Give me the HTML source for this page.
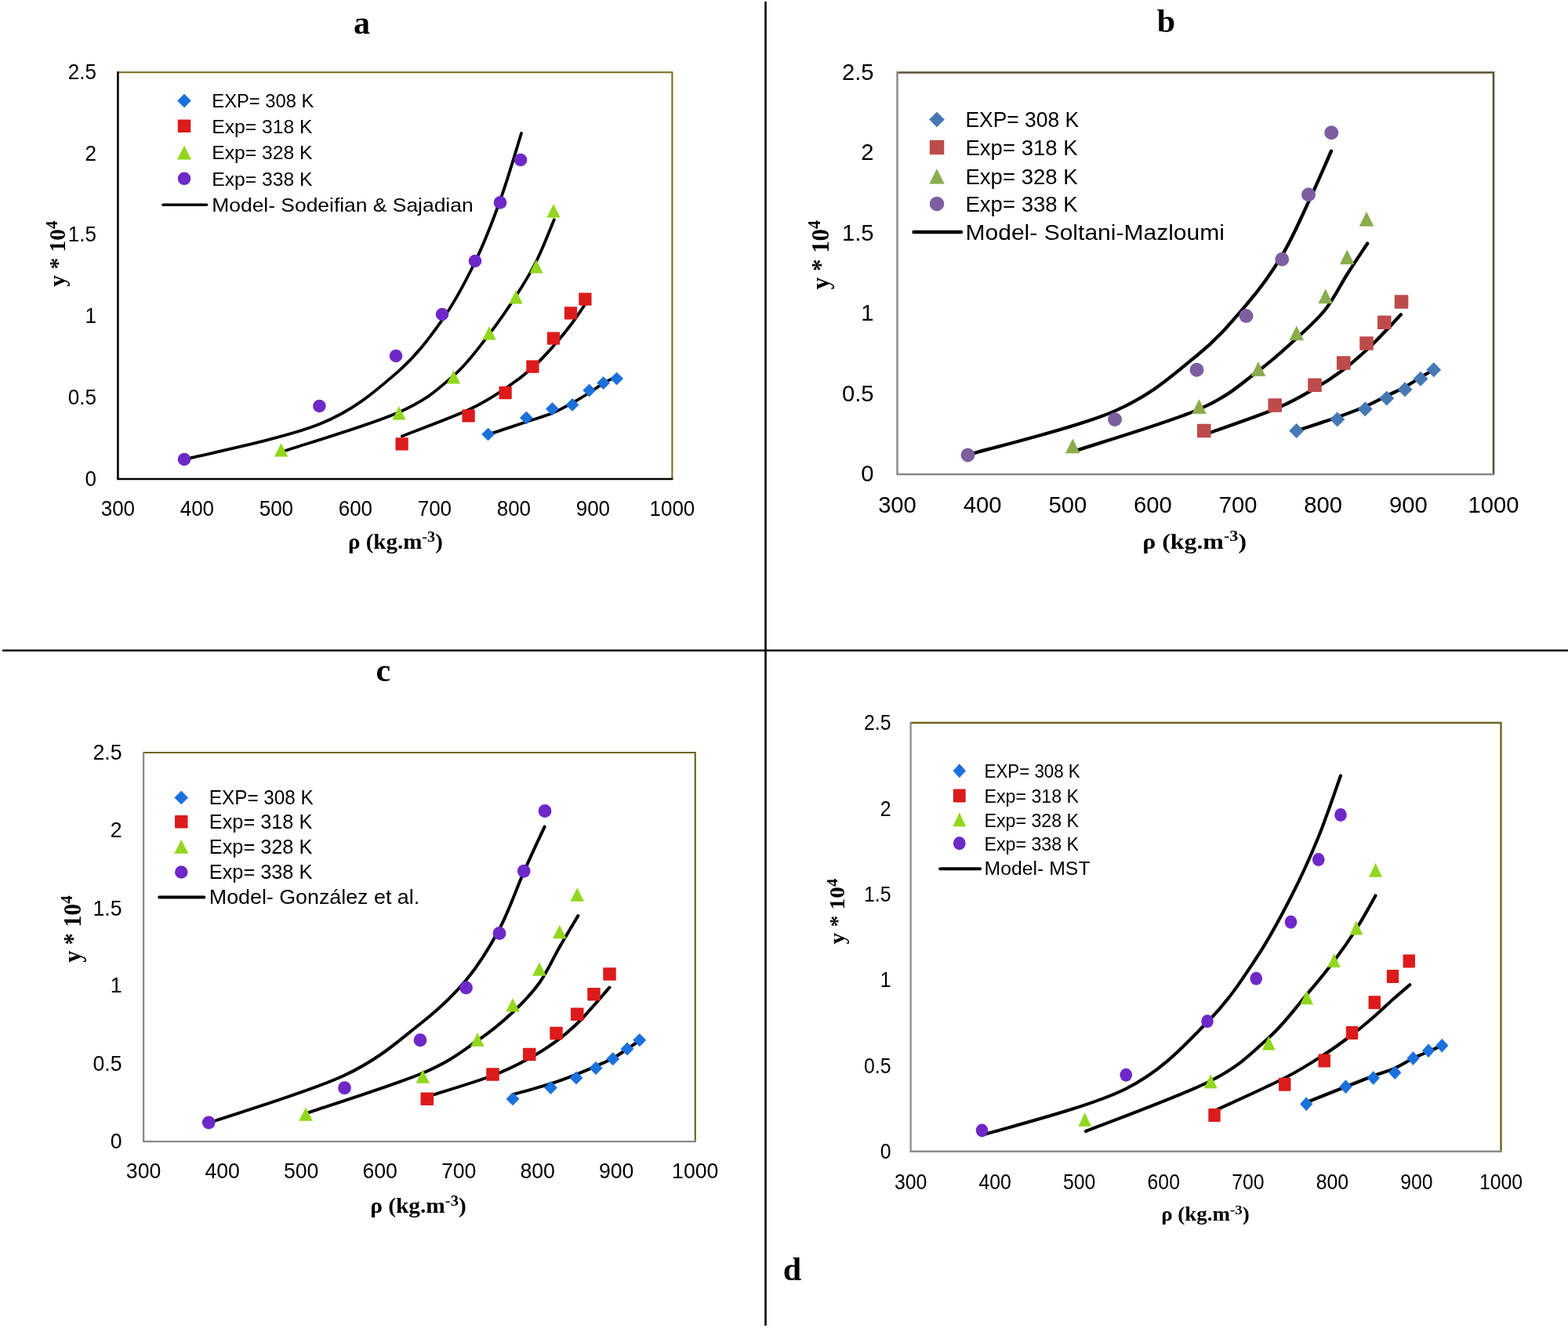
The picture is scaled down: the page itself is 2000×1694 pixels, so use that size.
<!DOCTYPE html>
<html lang="en">
<head>
<meta charset="utf-8">
<title>Solubility versus density: experimental data and model correlations</title>
<style>
html,body{margin:0;padding:0;background:#fff;}
body{width:2000px;height:1694px;overflow:hidden;}
svg{display:block;}
text{fill:#000;}
</style>
</head>
<body>
<svg xmlns="http://www.w3.org/2000/svg" width="2000" height="1694" viewBox="0 0 2000 1694">
<rect x="0" y="0" width="2000" height="1694" fill="#ffffff"/>
<line x1="976.5" y1="2" x2="976.5" y2="1691" stroke="#000" stroke-width="2.6"/>
<line x1="3" y1="829.7" x2="2000" y2="829.7" stroke="#000" stroke-width="2.6"/>
<g>
<polyline points="150.4,92.2 857.4,92.2 857.4,611" fill="none" stroke="#7A6A1E" stroke-width="2" stroke-linejoin="miter"/>
<polyline points="150.4,91.2 150.4,611 858.4,611" fill="none" stroke="#000000" stroke-width="2.6" stroke-linejoin="miter"/>
<text x="123" y="619.5" font-family='"Liberation Sans", Arial, sans-serif' font-size="26.8" font-weight="normal" text-anchor="end" textLength="14.46" lengthAdjust="spacingAndGlyphs" >0</text>
<text x="123" y="515.74" font-family='"Liberation Sans", Arial, sans-serif' font-size="26.8" font-weight="normal" text-anchor="end" textLength="36.14" lengthAdjust="spacingAndGlyphs" >0.5</text>
<text x="123" y="411.98" font-family='"Liberation Sans", Arial, sans-serif' font-size="26.8" font-weight="normal" text-anchor="end" textLength="14.46" lengthAdjust="spacingAndGlyphs" >1</text>
<text x="123" y="308.22" font-family='"Liberation Sans", Arial, sans-serif' font-size="26.8" font-weight="normal" text-anchor="end" textLength="36.14" lengthAdjust="spacingAndGlyphs" >1.5</text>
<text x="123" y="205.06" font-family='"Liberation Sans", Arial, sans-serif' font-size="26.8" font-weight="normal" text-anchor="end" textLength="14.46" lengthAdjust="spacingAndGlyphs" >2</text>
<text x="123" y="100.7" font-family='"Liberation Sans", Arial, sans-serif' font-size="26.8" font-weight="normal" text-anchor="end" textLength="36.14" lengthAdjust="spacingAndGlyphs" >2.5</text>
<text x="150.4" y="658" font-family='"Liberation Sans", Arial, sans-serif' font-size="26.8" font-weight="normal" text-anchor="middle" textLength="43.37" lengthAdjust="spacingAndGlyphs" >300</text>
<text x="251.4" y="658" font-family='"Liberation Sans", Arial, sans-serif' font-size="26.8" font-weight="normal" text-anchor="middle" textLength="43.37" lengthAdjust="spacingAndGlyphs" >400</text>
<text x="352.4" y="658" font-family='"Liberation Sans", Arial, sans-serif' font-size="26.8" font-weight="normal" text-anchor="middle" textLength="43.37" lengthAdjust="spacingAndGlyphs" >500</text>
<text x="453.4" y="658" font-family='"Liberation Sans", Arial, sans-serif' font-size="26.8" font-weight="normal" text-anchor="middle" textLength="43.37" lengthAdjust="spacingAndGlyphs" >600</text>
<text x="554.4" y="658" font-family='"Liberation Sans", Arial, sans-serif' font-size="26.8" font-weight="normal" text-anchor="middle" textLength="43.37" lengthAdjust="spacingAndGlyphs" >700</text>
<text x="655.4" y="658" font-family='"Liberation Sans", Arial, sans-serif' font-size="26.8" font-weight="normal" text-anchor="middle" textLength="43.37" lengthAdjust="spacingAndGlyphs" >800</text>
<text x="756.4" y="658" font-family='"Liberation Sans", Arial, sans-serif' font-size="26.8" font-weight="normal" text-anchor="middle" textLength="43.37" lengthAdjust="spacingAndGlyphs" >900</text>
<text x="857.4" y="658" font-family='"Liberation Sans", Arial, sans-serif' font-size="26.8" font-weight="normal" text-anchor="middle" textLength="57.83" lengthAdjust="spacingAndGlyphs" >1000</text>
<text x="444" y="699.5" font-family='"Liberation Serif", "Times New Roman", serif' font-size="26.8" font-weight="bold" text-anchor="start" textLength="120.8" lengthAdjust="spacingAndGlyphs" >ρ (kg.m<tspan font-size="18.76" dy="-8.84">-3</tspan><tspan dy="8.84">)</tspan></text>
<text x="0" y="0" font-family='"Liberation Serif", "Times New Roman", serif' font-size="29.5" font-weight="bold" text-anchor="middle" textLength="84.08" lengthAdjust="spacingAndGlyphs" transform="translate(82.5,323.7) rotate(-90)">y * 10<tspan font-size="20.65" dy="-9.74">4</tspan></text>
<text x="461.5" y="42.5" font-family='"Liberation Serif", "Times New Roman", serif' font-size="42" font-weight="bold" text-anchor="middle" >a</text>
<path d="M235,586.3 C263.83,578.72 363.03,559.08 408,540.8 C452.97,522.52 478.77,498.77 504.8,476.6 C530.83,454.43 547.33,431.57 564.2,407.8 C581.07,384.03 593.7,359.38 606,334 C618.3,308.62 628.17,282.83 638,255.5 C647.83,228.17 660.5,184.25 665,170" fill="none" stroke="#000" stroke-width="3.8" stroke-linejoin="round" stroke-linecap="round"/>
<path d="M358.6,576.6 C383.6,568.17 472,542.18 508.6,526 C545.2,509.82 558.93,496.17 578.2,479.5 C597.47,462.83 610.9,442.95 624.2,426 C637.5,409.05 648.03,393.22 658,377.8 C667.97,362.38 675.87,349.77 684,333.5 C692.13,317.23 703,289.08 706.8,280.2" fill="none" stroke="#000" stroke-width="3.8" stroke-linejoin="round" stroke-linecap="round"/>
<path d="M512.8,556.4 C526.93,550.8 575.63,532.95 597.6,522.8 C619.57,512.65 630.97,504.47 644.6,495.5 C658.23,486.53 669.17,478.03 679.4,469 C689.63,459.97 697.9,450.38 706,441.3 C714.1,432.22 721.27,423.38 728,414.5 C734.73,405.62 743.33,392.42 746.4,388" fill="none" stroke="#000" stroke-width="3.8" stroke-linejoin="round" stroke-linecap="round"/>
<path d="M622.4,554.4 C630.5,551.7 657.33,542.77 671,538.2 C684.67,533.63 694.57,531.03 704.4,527 C714.23,522.97 722.13,518.33 730,514 C737.87,509.67 745,505.17 751.6,501 C758.2,496.83 763.77,492.5 769.6,489 C775.43,485.5 783.77,481.5 786.6,480" fill="none" stroke="#000" stroke-width="3.8" stroke-linejoin="round" stroke-linecap="round"/>
<polygon points="622.6,545.9 630.7,554 622.6,562.1 614.5,554" fill="#1B70DB" stroke="#1B70DB" stroke-width="0.6" stroke-linejoin="round"/>
<polygon points="671.4,524.9 679.5,533 671.4,541.1 663.3,533" fill="#1B70DB" stroke="#1B70DB" stroke-width="0.6" stroke-linejoin="round"/>
<polygon points="704.4,513.5 712.5,521.6 704.4,529.7 696.3,521.6" fill="#1B70DB" stroke="#1B70DB" stroke-width="0.6" stroke-linejoin="round"/>
<polygon points="730,508.3 738.1,516.4 730,524.5 721.9,516.4" fill="#1B70DB" stroke="#1B70DB" stroke-width="0.6" stroke-linejoin="round"/>
<polygon points="751.6,489.9 759.7,498 751.6,506.1 743.5,498" fill="#1B70DB" stroke="#1B70DB" stroke-width="0.6" stroke-linejoin="round"/>
<polygon points="769.6,480.5 777.7,488.6 769.6,496.7 761.5,488.6" fill="#1B70DB" stroke="#1B70DB" stroke-width="0.6" stroke-linejoin="round"/>
<polygon points="786.6,474.9 794.7,483 786.6,491.1 778.5,483" fill="#1B70DB" stroke="#1B70DB" stroke-width="0.6" stroke-linejoin="round"/>
<rect x="504.45" y="558.25" width="16.3" height="16.3" rx="0.8" fill="#DC1B1B"/>
<rect x="589.45" y="522.25" width="16.3" height="16.3" rx="0.8" fill="#DC1B1B"/>
<rect x="636.45" y="492.85" width="16.3" height="16.3" rx="0.8" fill="#DC1B1B"/>
<rect x="671.25" y="459.45" width="16.3" height="16.3" rx="0.8" fill="#DC1B1B"/>
<rect x="697.85" y="423.45" width="16.3" height="16.3" rx="0.8" fill="#DC1B1B"/>
<rect x="719.85" y="391.25" width="16.3" height="16.3" rx="0.8" fill="#DC1B1B"/>
<rect x="738.25" y="373.45" width="16.3" height="16.3" rx="0.8" fill="#DC1B1B"/>
<polygon points="358.6,565.8 366.8,582.2 350.4,582.2" fill="#92D61D" stroke="#92D61D" stroke-width="0.6" stroke-linejoin="round"/>
<polygon points="509,518.8 517.2,535.2 500.8,535.2" fill="#92D61D" stroke="#92D61D" stroke-width="0.6" stroke-linejoin="round"/>
<polygon points="578.6,472.8 586.8,489.2 570.4,489.2" fill="#92D61D" stroke="#92D61D" stroke-width="0.6" stroke-linejoin="round"/>
<polygon points="624,416.8 632.2,433.2 615.8,433.2" fill="#92D61D" stroke="#92D61D" stroke-width="0.6" stroke-linejoin="round"/>
<polygon points="658,370.8 666.2,387.2 649.8,387.2" fill="#92D61D" stroke="#92D61D" stroke-width="0.6" stroke-linejoin="round"/>
<polygon points="684,331.8 692.2,348.2 675.8,348.2" fill="#92D61D" stroke="#92D61D" stroke-width="0.6" stroke-linejoin="round"/>
<polygon points="706,260.8 714.2,277.2 697.8,277.2" fill="#92D61D" stroke="#92D61D" stroke-width="0.6" stroke-linejoin="round"/>
<ellipse cx="235" cy="586" rx="8.3" ry="8.3" fill="#6E28C8"/>
<ellipse cx="407.4" cy="518" rx="8.3" ry="8.3" fill="#6E28C8"/>
<ellipse cx="505" cy="454" rx="8.3" ry="8.3" fill="#6E28C8"/>
<ellipse cx="564" cy="401" rx="8.3" ry="8.3" fill="#6E28C8"/>
<ellipse cx="606" cy="333" rx="8.3" ry="8.3" fill="#6E28C8"/>
<ellipse cx="638" cy="258.4" rx="8.3" ry="8.3" fill="#6E28C8"/>
<ellipse cx="664" cy="204" rx="8.3" ry="8.3" fill="#6E28C8"/>
<polygon points="235,120.1 243.5,128.6 235,137.1 226.5,128.6" fill="#1B70DB" stroke="#1B70DB" stroke-width="0.6" stroke-linejoin="round"/>
<text x="270.3" y="137.3" font-family='"Liberation Sans", Arial, sans-serif' font-size="24.8" font-weight="normal" text-anchor="start" textLength="129.97" lengthAdjust="spacingAndGlyphs" >EXP= 308 K</text>
<rect x="226.75" y="152.55" width="16.5" height="16.5" rx="0.8" fill="#DC1B1B"/>
<text x="270.3" y="169.5" font-family='"Liberation Sans", Arial, sans-serif' font-size="24.8" font-weight="normal" text-anchor="start" textLength="128.27" lengthAdjust="spacingAndGlyphs" >Exp= 318 K</text>
<polygon points="235,186.2 243.5,203.2 226.5,203.2" fill="#92D61D" stroke="#92D61D" stroke-width="0.6" stroke-linejoin="round"/>
<text x="270.3" y="203.4" font-family='"Liberation Sans", Arial, sans-serif' font-size="24.8" font-weight="normal" text-anchor="start" textLength="128.27" lengthAdjust="spacingAndGlyphs" >Exp= 328 K</text>
<ellipse cx="235" cy="227.8" rx="8.25" ry="8.25" fill="#6E28C8"/>
<text x="270.3" y="236.5" font-family='"Liberation Sans", Arial, sans-serif' font-size="24.8" font-weight="normal" text-anchor="start" textLength="128.27" lengthAdjust="spacingAndGlyphs" >Exp= 338 K</text>
<line x1="208" y1="261.3" x2="263.5" y2="261.3" stroke="#000" stroke-width="3.6" stroke-linecap="round"/>
<text x="270.3" y="270" font-family='"Liberation Sans", Arial, sans-serif' font-size="24.8" font-weight="normal" text-anchor="start" textLength="333.3" lengthAdjust="spacingAndGlyphs" >Model- Sodeifian &amp; Sajadian</text>
</g>
<g>
<polyline points="1144.5,92.5 1905,92.5 1905,605" fill="none" stroke="#5A5232" stroke-width="2.6" stroke-linejoin="miter"/>
<polyline points="1144.5,91.2 1144.5,605 1906.3,605" fill="none" stroke="#868686" stroke-width="2.4" stroke-linejoin="miter"/>
<text x="1114.5" y="614.2" font-family='"Liberation Sans", Arial, sans-serif' font-size="28.9" font-weight="normal" text-anchor="end" textLength="16.23" lengthAdjust="spacingAndGlyphs" >0</text>
<text x="1114.5" y="511.7" font-family='"Liberation Sans", Arial, sans-serif' font-size="28.9" font-weight="normal" text-anchor="end" textLength="40.58" lengthAdjust="spacingAndGlyphs" >0.5</text>
<text x="1114.5" y="409.2" font-family='"Liberation Sans", Arial, sans-serif' font-size="28.9" font-weight="normal" text-anchor="end" textLength="16.23" lengthAdjust="spacingAndGlyphs" >1</text>
<text x="1114.5" y="306.7" font-family='"Liberation Sans", Arial, sans-serif' font-size="28.9" font-weight="normal" text-anchor="end" textLength="40.58" lengthAdjust="spacingAndGlyphs" >1.5</text>
<text x="1114.5" y="204.2" font-family='"Liberation Sans", Arial, sans-serif' font-size="28.9" font-weight="normal" text-anchor="end" textLength="16.23" lengthAdjust="spacingAndGlyphs" >2</text>
<text x="1114.5" y="101.7" font-family='"Liberation Sans", Arial, sans-serif' font-size="28.9" font-weight="normal" text-anchor="end" textLength="40.58" lengthAdjust="spacingAndGlyphs" >2.5</text>
<text x="1144.5" y="653.6" font-family='"Liberation Sans", Arial, sans-serif' font-size="28.9" font-weight="normal" text-anchor="middle" textLength="48.7" lengthAdjust="spacingAndGlyphs" >300</text>
<text x="1253.14" y="653.6" font-family='"Liberation Sans", Arial, sans-serif' font-size="28.9" font-weight="normal" text-anchor="middle" textLength="48.7" lengthAdjust="spacingAndGlyphs" >400</text>
<text x="1361.79" y="653.6" font-family='"Liberation Sans", Arial, sans-serif' font-size="28.9" font-weight="normal" text-anchor="middle" textLength="48.7" lengthAdjust="spacingAndGlyphs" >500</text>
<text x="1470.43" y="653.6" font-family='"Liberation Sans", Arial, sans-serif' font-size="28.9" font-weight="normal" text-anchor="middle" textLength="48.7" lengthAdjust="spacingAndGlyphs" >600</text>
<text x="1579.07" y="653.6" font-family='"Liberation Sans", Arial, sans-serif' font-size="28.9" font-weight="normal" text-anchor="middle" textLength="48.7" lengthAdjust="spacingAndGlyphs" >700</text>
<text x="1687.71" y="653.6" font-family='"Liberation Sans", Arial, sans-serif' font-size="28.9" font-weight="normal" text-anchor="middle" textLength="48.7" lengthAdjust="spacingAndGlyphs" >800</text>
<text x="1796.36" y="653.6" font-family='"Liberation Sans", Arial, sans-serif' font-size="28.9" font-weight="normal" text-anchor="middle" textLength="48.7" lengthAdjust="spacingAndGlyphs" >900</text>
<text x="1905" y="653.6" font-family='"Liberation Sans", Arial, sans-serif' font-size="28.9" font-weight="normal" text-anchor="middle" textLength="64.93" lengthAdjust="spacingAndGlyphs" >1000</text>
<text x="1457.2" y="699.5" font-family='"Liberation Serif", "Times New Roman", serif' font-size="28.3" font-weight="bold" text-anchor="start" textLength="132.87" lengthAdjust="spacingAndGlyphs" >ρ (kg.m<tspan font-size="19.81" dy="-9.34">-3</tspan><tspan dy="9.34">)</tspan></text>
<text x="0" y="0" font-family='"Liberation Serif", "Times New Roman", serif' font-size="31.7" font-weight="bold" text-anchor="middle" textLength="88.27" lengthAdjust="spacingAndGlyphs" transform="translate(1056.7,325.2) rotate(-90)">y * 10<tspan font-size="22.19" dy="-10.46">4</tspan></text>
<text x="1487.5" y="41" font-family='"Liberation Serif", "Times New Roman", serif' font-size="42" font-weight="bold" text-anchor="middle" >b</text>
<path d="M1234.8,580.2 C1265.87,570.93 1372.75,545.55 1421.2,524.6 C1469.65,503.65 1497.37,477.18 1525.5,454.5 C1553.63,431.82 1571.71,409.95 1590,388.5 C1608.29,367.05 1622.08,347.6 1635.25,325.8 C1648.42,304 1658.54,279.88 1669,257.7 C1679.46,235.52 1693.17,203.57 1698,192.75" fill="none" stroke="#000" stroke-width="4.3" stroke-linejoin="round" stroke-linecap="round"/>
<path d="M1368.2,576.1 C1395.04,567.11 1489.86,539.27 1529.25,522.15 C1568.64,505.03 1583.8,488.51 1604.55,473.4 C1625.3,458.29 1639.38,444.65 1653.75,431.5 C1668.12,418.35 1680,408.08 1690.75,394.5 C1701.5,380.92 1709.34,364 1718.25,350 C1727.16,336 1739.88,317.08 1744.2,310.5" fill="none" stroke="#000" stroke-width="4.3" stroke-linejoin="round" stroke-linecap="round"/>
<path d="M1535.75,554.6 C1550.83,549.13 1602.75,531.62 1626.25,521.8 C1649.75,511.98 1662.2,504.1 1676.76,495.7 C1691.32,487.3 1702.56,479.6 1713.6,471.4 C1724.64,463.2 1734.3,454.43 1743,446.5 C1751.7,438.57 1758.5,431.32 1765.8,423.8 C1773.1,416.28 1783.3,405.13 1786.8,401.4" fill="none" stroke="#000" stroke-width="4.3" stroke-linejoin="round" stroke-linecap="round"/>
<path d="M1653.8,549.4 C1662.47,546.53 1691.23,537.33 1705.8,532.2 C1720.37,527.07 1730.7,523.13 1741.2,518.6 C1751.7,514.07 1760.3,509.17 1768.8,505 C1777.3,500.83 1785,497.55 1792.2,493.6 C1799.4,489.65 1805.9,485 1812,481.3 C1818.1,477.6 1826,473.05 1828.8,471.4" fill="none" stroke="#000" stroke-width="4.3" stroke-linejoin="round" stroke-linecap="round"/>
<polygon points="1653.75,540.3 1662.95,549.5 1653.75,558.7 1644.55,549.5" fill="#4678B4" stroke="#4678B4" stroke-width="0.6" stroke-linejoin="round"/>
<polygon points="1705.75,525.8 1714.95,535 1705.75,544.2 1696.55,535" fill="#4678B4" stroke="#4678B4" stroke-width="0.6" stroke-linejoin="round"/>
<polygon points="1741.25,512.55 1750.45,521.75 1741.25,530.95 1732.05,521.75" fill="#4678B4" stroke="#4678B4" stroke-width="0.6" stroke-linejoin="round"/>
<polygon points="1768.75,498.8 1777.95,508 1768.75,517.2 1759.55,508" fill="#4678B4" stroke="#4678B4" stroke-width="0.6" stroke-linejoin="round"/>
<polygon points="1792,487.55 1801.2,496.75 1792,505.95 1782.8,496.75" fill="#4678B4" stroke="#4678B4" stroke-width="0.6" stroke-linejoin="round"/>
<polygon points="1812,474.05 1821.2,483.25 1812,492.45 1802.8,483.25" fill="#4678B4" stroke="#4678B4" stroke-width="0.6" stroke-linejoin="round"/>
<polygon points="1828.75,462.55 1837.95,471.75 1828.75,480.95 1819.55,471.75" fill="#4678B4" stroke="#4678B4" stroke-width="0.6" stroke-linejoin="round"/>
<rect x="1526.95" y="540.7" width="17.6" height="17.6" rx="0.8" fill="#BE4B4B"/>
<rect x="1617.45" y="508.2" width="17.6" height="17.6" rx="0.8" fill="#BE4B4B"/>
<rect x="1668.2" y="482.45" width="17.6" height="17.6" rx="0.8" fill="#BE4B4B"/>
<rect x="1704.95" y="454.2" width="17.6" height="17.6" rx="0.8" fill="#BE4B4B"/>
<rect x="1734.2" y="429.2" width="17.6" height="17.6" rx="0.8" fill="#BE4B4B"/>
<rect x="1756.95" y="402.45" width="17.6" height="17.6" rx="0.8" fill="#BE4B4B"/>
<rect x="1778.7" y="376.2" width="17.6" height="17.6" rx="0.8" fill="#BE4B4B"/>
<polygon points="1368.25,560.1 1377.15,577.9 1359.35,577.9" fill="#8AAC4C" stroke="#8AAC4C" stroke-width="0.6" stroke-linejoin="round"/>
<polygon points="1529.5,509.85 1538.4,527.65 1520.6,527.65" fill="#8AAC4C" stroke="#8AAC4C" stroke-width="0.6" stroke-linejoin="round"/>
<polygon points="1605,461.85 1613.9,479.65 1596.1,479.65" fill="#8AAC4C" stroke="#8AAC4C" stroke-width="0.6" stroke-linejoin="round"/>
<polygon points="1653.75,416.1 1662.65,433.9 1644.85,433.9" fill="#8AAC4C" stroke="#8AAC4C" stroke-width="0.6" stroke-linejoin="round"/>
<polygon points="1690.75,369.1 1699.65,386.9 1681.85,386.9" fill="#8AAC4C" stroke="#8AAC4C" stroke-width="0.6" stroke-linejoin="round"/>
<polygon points="1718.25,319.1 1727.15,336.9 1709.35,336.9" fill="#8AAC4C" stroke="#8AAC4C" stroke-width="0.6" stroke-linejoin="round"/>
<polygon points="1743,270.6 1751.9,288.4 1734.1,288.4" fill="#8AAC4C" stroke="#8AAC4C" stroke-width="0.6" stroke-linejoin="round"/>
<ellipse cx="1234.5" cy="580.5" rx="9" ry="9" fill="#7D5FA0"/>
<ellipse cx="1422" cy="535" rx="9" ry="9" fill="#7D5FA0"/>
<ellipse cx="1526.5" cy="471.75" rx="9" ry="9" fill="#7D5FA0"/>
<ellipse cx="1589.5" cy="403" rx="9" ry="9" fill="#7D5FA0"/>
<ellipse cx="1635.25" cy="330.75" rx="9" ry="9" fill="#7D5FA0"/>
<ellipse cx="1669" cy="248.25" rx="9" ry="9" fill="#7D5FA0"/>
<ellipse cx="1698.25" cy="169.25" rx="9" ry="9" fill="#7D5FA0"/>
<polygon points="1195,143 1204.5,152.5 1195,162 1185.5,152.5" fill="#4678B4" stroke="#4678B4" stroke-width="0.6" stroke-linejoin="round"/>
<text x="1231.5" y="162.2" font-family='"Liberation Sans", Arial, sans-serif' font-size="27.3" font-weight="normal" text-anchor="start" textLength="144.56" lengthAdjust="spacingAndGlyphs" >EXP= 308 K</text>
<rect x="1185.75" y="178.75" width="18.5" height="18.5" rx="0.8" fill="#BE4B4B"/>
<text x="1231.5" y="197.7" font-family='"Liberation Sans", Arial, sans-serif' font-size="27.3" font-weight="normal" text-anchor="start" textLength="143.05" lengthAdjust="spacingAndGlyphs" >Exp= 318 K</text>
<polygon points="1195,215.75 1204.25,234.25 1185.75,234.25" fill="#8AAC4C" stroke="#8AAC4C" stroke-width="0.6" stroke-linejoin="round"/>
<text x="1231.5" y="234.7" font-family='"Liberation Sans", Arial, sans-serif' font-size="27.3" font-weight="normal" text-anchor="start" textLength="143.05" lengthAdjust="spacingAndGlyphs" >Exp= 328 K</text>
<ellipse cx="1195" cy="260" rx="9.25" ry="9.25" fill="#7D5FA0"/>
<text x="1231.5" y="269.7" font-family='"Liberation Sans", Arial, sans-serif' font-size="27.3" font-weight="normal" text-anchor="start" textLength="143.05" lengthAdjust="spacingAndGlyphs" >Exp= 338 K</text>
<line x1="1165.5" y1="296" x2="1226" y2="296" stroke="#000" stroke-width="4.4" stroke-linecap="round"/>
<text x="1231.5" y="305.7" font-family='"Liberation Sans", Arial, sans-serif' font-size="27.3" font-weight="normal" text-anchor="start" textLength="330.45" lengthAdjust="spacingAndGlyphs" >Model- Soltani-Mazloumi</text>
</g>
<g>
<polyline points="183.1,960 886.75,960 886.75,1456.1" fill="none" stroke="#6F631C" stroke-width="2.2" stroke-linejoin="miter"/>
<polyline points="183.1,958.9 183.1,1456.1 887.85,1456.1" fill="none" stroke="#8A8A8A" stroke-width="2.3" stroke-linejoin="miter"/>
<text x="155.5" y="1464.8" font-family='"Liberation Sans", Arial, sans-serif' font-size="27.2" font-weight="normal" text-anchor="end" textLength="14.82" lengthAdjust="spacingAndGlyphs" >0</text>
<text x="155.5" y="1365.58" font-family='"Liberation Sans", Arial, sans-serif' font-size="27.2" font-weight="normal" text-anchor="end" textLength="37.06" lengthAdjust="spacingAndGlyphs" >0.5</text>
<text x="155.5" y="1266.36" font-family='"Liberation Sans", Arial, sans-serif' font-size="27.2" font-weight="normal" text-anchor="end" textLength="14.82" lengthAdjust="spacingAndGlyphs" >1</text>
<text x="155.5" y="1168.14" font-family='"Liberation Sans", Arial, sans-serif' font-size="27.2" font-weight="normal" text-anchor="end" textLength="37.06" lengthAdjust="spacingAndGlyphs" >1.5</text>
<text x="155.5" y="1068.32" font-family='"Liberation Sans", Arial, sans-serif' font-size="27.2" font-weight="normal" text-anchor="end" textLength="14.82" lengthAdjust="spacingAndGlyphs" >2</text>
<text x="155.5" y="968.7" font-family='"Liberation Sans", Arial, sans-serif' font-size="27.2" font-weight="normal" text-anchor="end" textLength="37.06" lengthAdjust="spacingAndGlyphs" >2.5</text>
<text x="183.1" y="1503" font-family='"Liberation Sans", Arial, sans-serif' font-size="27.2" font-weight="normal" text-anchor="middle" textLength="44.47" lengthAdjust="spacingAndGlyphs" >300</text>
<text x="283.62" y="1503" font-family='"Liberation Sans", Arial, sans-serif' font-size="27.2" font-weight="normal" text-anchor="middle" textLength="44.47" lengthAdjust="spacingAndGlyphs" >400</text>
<text x="384.14" y="1503" font-family='"Liberation Sans", Arial, sans-serif' font-size="27.2" font-weight="normal" text-anchor="middle" textLength="44.47" lengthAdjust="spacingAndGlyphs" >500</text>
<text x="484.66" y="1503" font-family='"Liberation Sans", Arial, sans-serif' font-size="27.2" font-weight="normal" text-anchor="middle" textLength="44.47" lengthAdjust="spacingAndGlyphs" >600</text>
<text x="585.19" y="1503" font-family='"Liberation Sans", Arial, sans-serif' font-size="27.2" font-weight="normal" text-anchor="middle" textLength="44.47" lengthAdjust="spacingAndGlyphs" >700</text>
<text x="685.71" y="1503" font-family='"Liberation Sans", Arial, sans-serif' font-size="27.2" font-weight="normal" text-anchor="middle" textLength="44.47" lengthAdjust="spacingAndGlyphs" >800</text>
<text x="786.23" y="1503" font-family='"Liberation Sans", Arial, sans-serif' font-size="27.2" font-weight="normal" text-anchor="middle" textLength="44.47" lengthAdjust="spacingAndGlyphs" >900</text>
<text x="886.75" y="1503" font-family='"Liberation Sans", Arial, sans-serif' font-size="27.2" font-weight="normal" text-anchor="middle" textLength="59.3" lengthAdjust="spacingAndGlyphs" >1000</text>
<text x="472.2" y="1546.5" font-family='"Liberation Serif", "Times New Roman", serif' font-size="26.4" font-weight="bold" text-anchor="start" textLength="122.52" lengthAdjust="spacingAndGlyphs" >ρ (kg.m<tspan font-size="18.48" dy="-8.71">-3</tspan><tspan dy="8.71">)</tspan></text>
<text x="0" y="0" font-family='"Liberation Serif", "Times New Roman", serif' font-size="30.6" font-weight="bold" text-anchor="middle" textLength="85.47" lengthAdjust="spacingAndGlyphs" transform="translate(102.5,1185) rotate(-90)">y * 10<tspan font-size="21.42" dy="-10.1">4</tspan></text>
<text x="488.75" y="869" font-family='"Liberation Serif", "Times New Roman", serif' font-size="42" font-weight="bold" text-anchor="middle" >c</text>
<path d="M266.4,1432.3 C295.2,1422.22 394.27,1392.85 439.2,1371.8 C484.13,1350.75 510.12,1326.25 536,1306 C561.88,1285.75 577.67,1270.47 594.5,1250.3 C611.33,1230.13 624.71,1208.05 637,1185 C649.29,1161.95 658.65,1133.73 668.25,1112 C677.85,1090.27 690.21,1064.17 694.6,1054.6" fill="none" stroke="#000" stroke-width="4.0" stroke-linejoin="round" stroke-linecap="round"/>
<path d="M390,1420.4 C414.88,1411.79 502.75,1384.23 539.25,1368.75 C575.75,1353.27 589.88,1340.42 609,1327.5 C628.12,1314.58 640.83,1303.54 654,1291.25 C667.17,1278.96 678.04,1267.62 688,1253.75 C697.96,1239.88 705.53,1222.26 713.75,1208 C721.97,1193.74 733.38,1174.83 737.3,1168.2" fill="none" stroke="#000" stroke-width="4.0" stroke-linejoin="round" stroke-linecap="round"/>
<path d="M544.75,1399 C558.71,1394.5 606.75,1380.17 628.5,1372 C650.25,1363.83 661.75,1357.3 675.25,1350 C688.75,1342.7 699.33,1335.62 709.5,1328.2 C719.67,1320.78 728.25,1313.12 736.25,1305.5 C744.25,1297.88 750.62,1290.17 757.5,1282.5 C764.38,1274.83 774.17,1263.33 777.5,1259.5" fill="none" stroke="#000" stroke-width="4.0" stroke-linejoin="round" stroke-linecap="round"/>
<path d="M654,1396.25 C662.08,1393.92 689,1386.58 702.5,1382.3 C716,1378.02 725.42,1374.32 735,1370.6 C744.58,1366.88 752.21,1363.43 760,1360 C767.79,1356.57 775.08,1353.67 781.75,1350 C788.42,1346.33 794.33,1341.75 800,1338 C805.67,1334.25 813.12,1329.25 815.75,1327.5" fill="none" stroke="#000" stroke-width="4.0" stroke-linejoin="round" stroke-linecap="round"/>
<polygon points="654,1393.55 662.2,1401.75 654,1409.95 645.8,1401.75" fill="#1B70DB" stroke="#1B70DB" stroke-width="0.6" stroke-linejoin="round"/>
<polygon points="702.5,1379.3 710.7,1387.5 702.5,1395.7 694.3,1387.5" fill="#1B70DB" stroke="#1B70DB" stroke-width="0.6" stroke-linejoin="round"/>
<polygon points="735,1366.8 743.2,1375 735,1383.2 726.8,1375" fill="#1B70DB" stroke="#1B70DB" stroke-width="0.6" stroke-linejoin="round"/>
<polygon points="760,1354.3 768.2,1362.5 760,1370.7 751.8,1362.5" fill="#1B70DB" stroke="#1B70DB" stroke-width="0.6" stroke-linejoin="round"/>
<polygon points="781.75,1342.55 789.95,1350.75 781.75,1358.95 773.55,1350.75" fill="#1B70DB" stroke="#1B70DB" stroke-width="0.6" stroke-linejoin="round"/>
<polygon points="800,1329.8 808.2,1338 800,1346.2 791.8,1338" fill="#1B70DB" stroke="#1B70DB" stroke-width="0.6" stroke-linejoin="round"/>
<polygon points="815.75,1318.55 823.95,1326.75 815.75,1334.95 807.55,1326.75" fill="#1B70DB" stroke="#1B70DB" stroke-width="0.6" stroke-linejoin="round"/>
<rect x="536.5" y="1393.5" width="16.5" height="16.5" rx="0.8" fill="#DC1B1B"/>
<rect x="620.25" y="1362.25" width="16.5" height="16.5" rx="0.8" fill="#DC1B1B"/>
<rect x="667" y="1336.75" width="16.5" height="16.5" rx="0.8" fill="#DC1B1B"/>
<rect x="701.25" y="1309.75" width="16.5" height="16.5" rx="0.8" fill="#DC1B1B"/>
<rect x="728" y="1285.5" width="16.5" height="16.5" rx="0.8" fill="#DC1B1B"/>
<rect x="749.25" y="1260" width="16.5" height="16.5" rx="0.8" fill="#DC1B1B"/>
<rect x="769.25" y="1234.25" width="16.5" height="16.5" rx="0.8" fill="#DC1B1B"/>
<polygon points="390,1412.95 398.3,1429.55 381.7,1429.55" fill="#92D61D" stroke="#92D61D" stroke-width="0.6" stroke-linejoin="round"/>
<polygon points="539.25,1364.95 547.55,1381.55 530.95,1381.55" fill="#92D61D" stroke="#92D61D" stroke-width="0.6" stroke-linejoin="round"/>
<polygon points="609,1317.95 617.3,1334.55 600.7,1334.55" fill="#92D61D" stroke="#92D61D" stroke-width="0.6" stroke-linejoin="round"/>
<polygon points="654,1273.7 662.3,1290.3 645.7,1290.3" fill="#92D61D" stroke="#92D61D" stroke-width="0.6" stroke-linejoin="round"/>
<polygon points="688,1227.95 696.3,1244.55 679.7,1244.55" fill="#92D61D" stroke="#92D61D" stroke-width="0.6" stroke-linejoin="round"/>
<polygon points="713.75,1180.45 722.05,1197.05 705.45,1197.05" fill="#92D61D" stroke="#92D61D" stroke-width="0.6" stroke-linejoin="round"/>
<polygon points="736.25,1132.95 744.55,1149.55 727.95,1149.55" fill="#92D61D" stroke="#92D61D" stroke-width="0.6" stroke-linejoin="round"/>
<ellipse cx="266.25" cy="1432" rx="8.4" ry="8.4" fill="#6E28C8"/>
<ellipse cx="439.5" cy="1387.75" rx="8.4" ry="8.4" fill="#6E28C8"/>
<ellipse cx="536" cy="1326.75" rx="8.4" ry="8.4" fill="#6E28C8"/>
<ellipse cx="594.5" cy="1260" rx="8.4" ry="8.4" fill="#6E28C8"/>
<ellipse cx="637" cy="1190.5" rx="8.4" ry="8.4" fill="#6E28C8"/>
<ellipse cx="668.25" cy="1111.25" rx="8.4" ry="8.4" fill="#6E28C8"/>
<ellipse cx="695" cy="1034.5" rx="8.4" ry="8.4" fill="#6E28C8"/>
<polygon points="231.25,1009 239.75,1017.5 231.25,1026 222.75,1017.5" fill="#1B70DB" stroke="#1B70DB" stroke-width="0.6" stroke-linejoin="round"/>
<text x="266.8" y="1026" font-family='"Liberation Sans", Arial, sans-serif' font-size="25.3" font-weight="normal" text-anchor="start" textLength="133" lengthAdjust="spacingAndGlyphs" >EXP= 308 K</text>
<rect x="223" y="1040" width="16.5" height="16.5" rx="0.8" fill="#DC1B1B"/>
<text x="266.8" y="1056.75" font-family='"Liberation Sans", Arial, sans-serif' font-size="25.3" font-weight="normal" text-anchor="start" >Exp= 318 K</text>
<polygon points="231.25,1071.5 239.75,1088.5 222.75,1088.5" fill="#92D61D" stroke="#92D61D" stroke-width="0.6" stroke-linejoin="round"/>
<text x="266.8" y="1088.5" font-family='"Liberation Sans", Arial, sans-serif' font-size="25.3" font-weight="normal" text-anchor="start" >Exp= 328 K</text>
<ellipse cx="231.25" cy="1112.5" rx="8.25" ry="8.25" fill="#6E28C8"/>
<text x="266.8" y="1121" font-family='"Liberation Sans", Arial, sans-serif' font-size="25.3" font-weight="normal" text-anchor="start" >Exp= 338 K</text>
<line x1="203.2" y1="1144.5" x2="260.4" y2="1144.5" stroke="#000" stroke-width="3.8" stroke-linecap="round"/>
<text x="266.8" y="1153" font-family='"Liberation Sans", Arial, sans-serif' font-size="25.3" font-weight="normal" text-anchor="start" textLength="268.31" lengthAdjust="spacingAndGlyphs" >Model- González et al.</text>
</g>
<g>
<polyline points="1161.6,922 1914.5,922 1914.5,1468.75" fill="none" stroke="#6F651F" stroke-width="2.4" stroke-linejoin="miter"/>
<polyline points="1161.6,920.8 1161.6,1468.75 1915.7,1468.75" fill="none" stroke="#8C8C8C" stroke-width="2.3" stroke-linejoin="miter"/>
<text x="1136.5" y="1477.95" font-family='"Liberation Sans", Arial, sans-serif' font-size="27.1" font-weight="normal" text-anchor="end" textLength="13.79" lengthAdjust="spacingAndGlyphs" >0</text>
<text x="1136.5" y="1368.6" font-family='"Liberation Sans", Arial, sans-serif' font-size="27.1" font-weight="normal" text-anchor="end" textLength="34.47" lengthAdjust="spacingAndGlyphs" >0.5</text>
<text x="1136.5" y="1259.25" font-family='"Liberation Sans", Arial, sans-serif' font-size="27.1" font-weight="normal" text-anchor="end" textLength="13.79" lengthAdjust="spacingAndGlyphs" >1</text>
<text x="1136.5" y="1149.9" font-family='"Liberation Sans", Arial, sans-serif' font-size="27.1" font-weight="normal" text-anchor="end" textLength="34.47" lengthAdjust="spacingAndGlyphs" >1.5</text>
<text x="1136.5" y="1040.55" font-family='"Liberation Sans", Arial, sans-serif' font-size="27.1" font-weight="normal" text-anchor="end" textLength="13.79" lengthAdjust="spacingAndGlyphs" >2</text>
<text x="1136.5" y="931.2" font-family='"Liberation Sans", Arial, sans-serif' font-size="27.1" font-weight="normal" text-anchor="end" textLength="34.47" lengthAdjust="spacingAndGlyphs" >2.5</text>
<text x="1161.6" y="1516.5" font-family='"Liberation Sans", Arial, sans-serif' font-size="27.1" font-weight="normal" text-anchor="middle" textLength="41.37" lengthAdjust="spacingAndGlyphs" >300</text>
<text x="1269.16" y="1516.5" font-family='"Liberation Sans", Arial, sans-serif' font-size="27.1" font-weight="normal" text-anchor="middle" textLength="41.37" lengthAdjust="spacingAndGlyphs" >400</text>
<text x="1376.71" y="1516.5" font-family='"Liberation Sans", Arial, sans-serif' font-size="27.1" font-weight="normal" text-anchor="middle" textLength="41.37" lengthAdjust="spacingAndGlyphs" >500</text>
<text x="1484.27" y="1516.5" font-family='"Liberation Sans", Arial, sans-serif' font-size="27.1" font-weight="normal" text-anchor="middle" textLength="41.37" lengthAdjust="spacingAndGlyphs" >600</text>
<text x="1591.83" y="1516.5" font-family='"Liberation Sans", Arial, sans-serif' font-size="27.1" font-weight="normal" text-anchor="middle" textLength="41.37" lengthAdjust="spacingAndGlyphs" >700</text>
<text x="1699.39" y="1516.5" font-family='"Liberation Sans", Arial, sans-serif' font-size="27.1" font-weight="normal" text-anchor="middle" textLength="41.37" lengthAdjust="spacingAndGlyphs" >800</text>
<text x="1806.94" y="1516.5" font-family='"Liberation Sans", Arial, sans-serif' font-size="27.1" font-weight="normal" text-anchor="middle" textLength="41.37" lengthAdjust="spacingAndGlyphs" >900</text>
<text x="1914.5" y="1516.5" font-family='"Liberation Sans", Arial, sans-serif' font-size="27.1" font-weight="normal" text-anchor="middle" textLength="55.16" lengthAdjust="spacingAndGlyphs" >1000</text>
<text x="1481.2" y="1557" font-family='"Liberation Serif", "Times New Roman", serif' font-size="25.2" font-weight="bold" text-anchor="start" textLength="112.53" lengthAdjust="spacingAndGlyphs" >ρ (kg.m<tspan font-size="17.64" dy="-8.32">-3</tspan><tspan dy="8.32">)</tspan></text>
<text x="0" y="0" font-family='"Liberation Serif", "Times New Roman", serif' font-size="28.1" font-weight="bold" text-anchor="middle" textLength="83.85" lengthAdjust="spacingAndGlyphs" transform="translate(1077.2,1162.7) rotate(-90)">y * 10<tspan font-size="19.67" dy="-9.27">4</tspan></text>
<text x="1010.5" y="1633" font-family='"Liberation Serif", "Times New Roman", serif' font-size="42" font-weight="bold" text-anchor="middle" >d</text>
<path d="M1252.5,1448.2 C1283.12,1438.29 1388.33,1412.83 1436.25,1388.75 C1484.17,1364.67 1512.21,1331.67 1540,1303.75 C1567.79,1275.83 1585.08,1248.12 1603,1221.25 C1620.92,1194.38 1634.38,1168.12 1647.5,1142.5 C1660.62,1116.88 1671.33,1093 1681.75,1067.5 C1692.17,1042 1705.29,1002.5 1710,989.5" fill="none" stroke="#000" stroke-width="4.1" stroke-linejoin="round" stroke-linecap="round"/>
<path d="M1385,1443 C1411.54,1432.29 1505.38,1398.62 1544.25,1378.75 C1583.12,1358.88 1597.83,1342.08 1618.25,1323.75 C1638.67,1305.42 1652.88,1285.04 1666.75,1268.75 C1680.62,1252.46 1690.96,1239.96 1701.5,1226 C1712.04,1212.04 1721.17,1198.92 1730,1185 C1738.83,1171.08 1750.42,1149.58 1754.5,1142.5" fill="none" stroke="#000" stroke-width="4.1" stroke-linejoin="round" stroke-linecap="round"/>
<path d="M1549,1417 C1563.96,1410 1615.38,1387 1638.75,1375 C1662.12,1363 1674.96,1354.17 1689.25,1345 C1703.54,1335.83 1713.83,1328.12 1724.5,1320 C1735.17,1311.88 1744.58,1303.75 1753.25,1296.25 C1761.92,1288.75 1769,1281.67 1776.5,1275 C1784,1268.33 1794.62,1259.38 1798.25,1256.25" fill="none" stroke="#000" stroke-width="4.1" stroke-linejoin="round" stroke-linecap="round"/>
<path d="M1666.25,1406.25 C1674.62,1402.92 1702.25,1391.88 1716.5,1386.25 C1730.75,1380.62 1741.29,1376.46 1751.75,1372.5 C1762.21,1368.54 1770.79,1366.25 1779.25,1362.5 C1787.71,1358.75 1795.38,1353.54 1802.5,1350 C1809.62,1346.46 1815.88,1343.96 1822,1341.25 C1828.12,1338.54 1836.38,1335 1839.25,1333.75" fill="none" stroke="#000" stroke-width="4.1" stroke-linejoin="round" stroke-linecap="round"/>
<polygon points="1666.25,1399.65 1674.05,1408.25 1666.25,1416.85 1658.45,1408.25" fill="#1B70DB" stroke="#1B70DB" stroke-width="0.6" stroke-linejoin="round"/>
<polygon points="1716.5,1377.65 1724.3,1386.25 1716.5,1394.85 1708.7,1386.25" fill="#1B70DB" stroke="#1B70DB" stroke-width="0.6" stroke-linejoin="round"/>
<polygon points="1751.75,1366.4 1759.55,1375 1751.75,1383.6 1743.95,1375" fill="#1B70DB" stroke="#1B70DB" stroke-width="0.6" stroke-linejoin="round"/>
<polygon points="1779.25,1359.65 1787.05,1368.25 1779.25,1376.85 1771.45,1368.25" fill="#1B70DB" stroke="#1B70DB" stroke-width="0.6" stroke-linejoin="round"/>
<polygon points="1802.5,1341.4 1810.3,1350 1802.5,1358.6 1794.7,1350" fill="#1B70DB" stroke="#1B70DB" stroke-width="0.6" stroke-linejoin="round"/>
<polygon points="1822,1331.65 1829.8,1340.25 1822,1348.85 1814.2,1340.25" fill="#1B70DB" stroke="#1B70DB" stroke-width="0.6" stroke-linejoin="round"/>
<polygon points="1839.25,1325.15 1847.05,1333.75 1839.25,1342.35 1831.45,1333.75" fill="#1B70DB" stroke="#1B70DB" stroke-width="0.6" stroke-linejoin="round"/>
<rect x="1541.3" y="1414.1" width="15.4" height="16.8" rx="0.8" fill="#DC1B1B"/>
<rect x="1631.05" y="1374.85" width="15.4" height="16.8" rx="0.8" fill="#DC1B1B"/>
<rect x="1681.55" y="1344.6" width="15.4" height="16.8" rx="0.8" fill="#DC1B1B"/>
<rect x="1716.8" y="1309.1" width="15.4" height="16.8" rx="0.8" fill="#DC1B1B"/>
<rect x="1745.55" y="1270.35" width="15.4" height="16.8" rx="0.8" fill="#DC1B1B"/>
<rect x="1768.8" y="1237.1" width="15.4" height="16.8" rx="0.8" fill="#DC1B1B"/>
<rect x="1789.55" y="1217.6" width="15.4" height="16.8" rx="0.8" fill="#DC1B1B"/>
<polygon points="1383.75,1419.75 1391.65,1436.75 1375.85,1436.75" fill="#92D61D" stroke="#92D61D" stroke-width="0.6" stroke-linejoin="round"/>
<polygon points="1544.25,1371 1552.15,1388 1536.35,1388" fill="#92D61D" stroke="#92D61D" stroke-width="0.6" stroke-linejoin="round"/>
<polygon points="1618.25,1322.25 1626.15,1339.25 1610.35,1339.25" fill="#92D61D" stroke="#92D61D" stroke-width="0.6" stroke-linejoin="round"/>
<polygon points="1666.75,1264 1674.65,1281 1658.85,1281" fill="#92D61D" stroke="#92D61D" stroke-width="0.6" stroke-linejoin="round"/>
<polygon points="1701.5,1216.75 1709.4,1233.75 1693.6,1233.75" fill="#92D61D" stroke="#92D61D" stroke-width="0.6" stroke-linejoin="round"/>
<polygon points="1730,1175.25 1737.9,1192.25 1722.1,1192.25" fill="#92D61D" stroke="#92D61D" stroke-width="0.6" stroke-linejoin="round"/>
<polygon points="1754.5,1101.5 1762.4,1118.5 1746.6,1118.5" fill="#92D61D" stroke="#92D61D" stroke-width="0.6" stroke-linejoin="round"/>
<ellipse cx="1252.5" cy="1442" rx="7.8" ry="8.4" fill="#6E28C8"/>
<ellipse cx="1436.25" cy="1371.25" rx="7.8" ry="8.4" fill="#6E28C8"/>
<ellipse cx="1540" cy="1302.75" rx="7.8" ry="8.4" fill="#6E28C8"/>
<ellipse cx="1602.25" cy="1248.25" rx="7.8" ry="8.4" fill="#6E28C8"/>
<ellipse cx="1646.5" cy="1176.25" rx="7.8" ry="8.4" fill="#6E28C8"/>
<ellipse cx="1681.75" cy="1096.5" rx="7.8" ry="8.4" fill="#6E28C8"/>
<ellipse cx="1710" cy="1039.5" rx="7.8" ry="8.4" fill="#6E28C8"/>
<polygon points="1223.75,974.55 1231.65,983.25 1223.75,991.95 1215.85,983.25" fill="#1B70DB" stroke="#1B70DB" stroke-width="0.6" stroke-linejoin="round"/>
<text x="1255.5" y="992.35" font-family='"Liberation Sans", Arial, sans-serif' font-size="24.8" font-weight="normal" text-anchor="start" textLength="122.23" lengthAdjust="spacingAndGlyphs" >EXP= 308 K</text>
<rect x="1215.85" y="1006.5" width="15.8" height="17" rx="0.8" fill="#DC1B1B"/>
<text x="1255.5" y="1024.1" font-family='"Liberation Sans", Arial, sans-serif' font-size="24.8" font-weight="normal" text-anchor="start" textLength="120.54" lengthAdjust="spacingAndGlyphs" >Exp= 318 K</text>
<polygon points="1223.75,1037 1231.65,1054 1215.85,1054" fill="#92D61D" stroke="#92D61D" stroke-width="0.6" stroke-linejoin="round"/>
<text x="1255.5" y="1054.6" font-family='"Liberation Sans", Arial, sans-serif' font-size="24.8" font-weight="normal" text-anchor="start" textLength="120.54" lengthAdjust="spacingAndGlyphs" >Exp= 328 K</text>
<ellipse cx="1223.75" cy="1075.75" rx="7.9" ry="8.4" fill="#6E28C8"/>
<text x="1255.5" y="1084.85" font-family='"Liberation Sans", Arial, sans-serif' font-size="24.8" font-weight="normal" text-anchor="start" textLength="120.54" lengthAdjust="spacingAndGlyphs" >Exp= 338 K</text>
<line x1="1199.2" y1="1108.25" x2="1250.2" y2="1108.25" stroke="#000" stroke-width="4.0" stroke-linecap="round"/>
<text x="1255.5" y="1116.2" font-family='"Liberation Sans", Arial, sans-serif' font-size="24.8" font-weight="normal" text-anchor="start" >Model- MST</text>
</g>
</svg>
</body>
</html>
